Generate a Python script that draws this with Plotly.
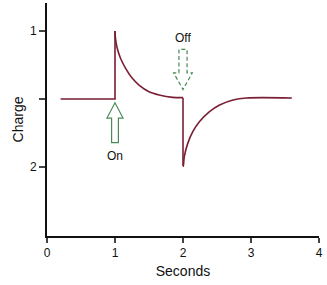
import plotly.graph_objects as go

# Charge trace
base_x = [0.2, 1.0]
base_y = [1.5, 1.5]
rise_x = [1.0, 1.007, 1.033, 1.081, 1.156, 1.255, 1.353, 1.50, 1.649, 1.847, 2.0]
rise_y = [1.0, 1.054, 1.127, 1.20, 1.274, 1.348, 1.397, 1.446, 1.47, 1.488, 1.49]
fall_x = [2.0, 2.004, 2.019, 2.07, 2.144, 2.241, 2.39, 2.538, 2.736, 2.933, 3.6]
fall_y = [1.993, 1.993, 1.924, 1.826, 1.74, 1.667, 1.593, 1.544, 1.507, 1.492, 1.492]

x_ticks = [0, 1, 2, 3, 4]
y_ticks = [1, 1.5, 2]
y_tick_text = ["1", "", "2"]

# arrow markers (data coords): x, tail, head base, tip, shaft half width, head half width
on_arrow = dict(x=1.0, tail=1.82, base=1.64, tip=1.527, sw=0.05, hw=0.118, label="On", label_y=1.92)
off_arrow = dict(x=2.0, tail=1.135, base=1.307, tip=1.43, sw=0.06, hw=0.138, label="Off", label_y=1.05)

curve_color = "#7a1e33"
arrow_color = "#4a8a58"
line = dict(color=curve_color, width=1.6)

fig = go.Figure()
# flat baseline and vertical jump
fig.add_trace(go.Scatter(x=base_x + [rise_x[0]], y=base_y + [rise_y[0]], mode="lines",
                         line=line, hoverinfo="skip"))
fig.add_trace(go.Scatter(x=rise_x, y=rise_y, mode="lines",
                         line=dict(shape="spline", smoothing=0.8, **line), hoverinfo="skip"))
# vertical drop
fig.add_trace(go.Scatter(x=[rise_x[-1], fall_x[0]], y=[rise_y[-1], fall_y[0]], mode="lines",
                         line=line, hoverinfo="skip"))
fig.add_trace(go.Scatter(x=fall_x, y=fall_y, mode="lines",
                         line=dict(shape="spline", smoothing=0.8, **line), hoverinfo="skip"))


def arrow_path(a):
    x = a["x"]
    return (f"M {x - a['sw']} {a['tail']} L {x - a['sw']} {a['base']} L {x - a['hw']} {a['base']} "
            f"L {x} {a['tip']} L {x + a['hw']} {a['base']} L {x + a['sw']} {a['base']} "
            f"L {x + a['sw']} {a['tail']} Z")


fig.add_shape(type="path", path=arrow_path(on_arrow), xref="x", yref="y",
              line=dict(color=arrow_color, width=1.2), fillcolor="rgba(0,0,0,0)")
fig.add_shape(type="path", path=arrow_path(off_arrow), xref="x", yref="y",
              line=dict(color=arrow_color, width=1.2, dash="4px,2.5px"), fillcolor="rgba(0,0,0,0)")

for a in (on_arrow, off_arrow):
    fig.add_annotation(x=a["x"], y=a["label_y"], text=a["label"], showarrow=False,
                       font=dict(size=12, color="#111111", family="Liberation Sans, Arial"),
                       xref="x", yref="y")

fig.update_layout(
    width=327, height=285,
    margin=dict(l=47, r=8, t=3, b=49),
    paper_bgcolor="white", plot_bgcolor="white",
    showlegend=False,
    font=dict(family="Liberation Sans, Arial", size=12, color="#111111"),
    xaxis=dict(range=[0, 4], tickvals=x_ticks, ticks="outside", ticklen=5, tickwidth=1.5,
               showline=True, linecolor="#111111", linewidth=1.6, showgrid=False, zeroline=False,
               title=dict(text="Seconds", standoff=7), tickfont=dict(size=12)),
    yaxis=dict(range=[2.507, 0.794], tickvals=y_ticks, ticktext=y_tick_text, ticks="outside",
               ticklen=6, tickwidth=1.5, showline=True, linecolor="#111111", linewidth=1.6,
               showgrid=False, zeroline=False, title=dict(text="Charge", standoff=3),
               tickfont=dict(size=12)),
)

fig.write_html("out.html")
